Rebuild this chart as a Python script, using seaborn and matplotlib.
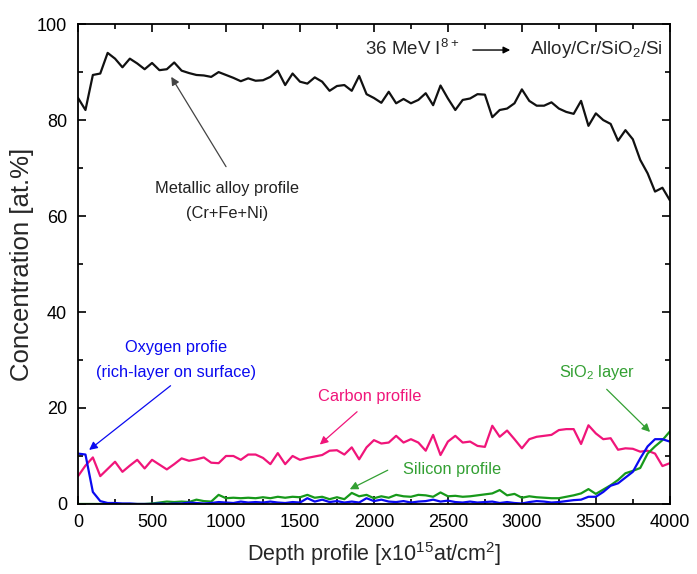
import numpy as np
import pandas as pd
import matplotlib
matplotlib.use("Agg")
import matplotlib.pyplot as plt
import seaborn as sns
from matplotlib.ticker import MultipleLocator

# ---- data ----
depth = list(range(0, 4001, 50))

metal = [84.6, 82.1, 89.4, 89.7, 94.0, 92.8, 91.0, 92.8, 91.8, 90.6,
         91.9, 90.4, 90.6, 92.0, 90.3, 89.8, 89.4, 89.3, 89.0, 90.0,
         89.4, 88.8, 88.1, 88.7, 88.2, 88.3, 89.0, 90.3, 87.3, 89.7,
         88.0, 87.6, 88.9, 88.0, 86.1, 87.1, 87.3, 86.1, 89.2, 85.4,
         84.6, 83.6, 85.9, 83.5, 84.4, 83.5, 84.2, 85.6, 83.1, 87.2,
         84.5, 82.1, 84.2, 84.5, 85.4, 85.3, 80.6, 82.1, 82.4, 83.5,
         86.4, 84.0, 83.0, 83.0, 83.7, 82.4, 81.7, 81.3, 84.0, 78.8,
         81.4, 80.0, 79.2, 75.7, 77.9, 76.0, 71.7, 68.9, 65.1, 65.9,
         63.3]

carbon = [5.8, 8.0, 9.7, 5.8, 7.3, 8.8, 6.7, 8.0, 9.2, 7.4,
          9.2, 8.2, 7.2, 8.3, 9.5, 9.0, 9.3, 9.7, 8.6, 8.5,
          10.0, 10.0, 9.2, 10.3, 10.3, 9.6, 8.3, 10.6, 8.3, 10.0,
          9.2, 9.6, 9.9, 10.2, 11.1, 11.2, 10.3, 11.8, 9.3, 11.8,
          13.3, 12.6, 12.8, 14.2, 12.8, 13.5, 12.8, 11.1, 14.4, 10.2,
          13.0, 14.2, 12.8, 13.0, 12.1, 11.9, 16.3, 14.0, 15.3, 13.5,
          11.6, 13.5, 14.0, 14.2, 14.4, 15.4, 15.6, 15.6, 12.5, 16.4,
          14.7, 13.5, 13.7, 11.3, 11.6, 11.5, 10.9, 11.1, 10.5, 7.9,
          8.5]

oxygen = [10.5, 10.3, 2.5, 0.6, 0.2, 0.2, 0.1, 0.1, 0.0, 0.0,
          0.0, 0.1, 0.0, 0.1, 0.1, 0.3, 0.2, 0.1, 0.2, 0.4,
          0.3, 0.2, 0.5, 0.3, 0.4, 0.3, 0.5, 0.3, 0.2, 0.4,
          0.3, 1.2, 0.5, 0.9, 0.4, 0.6, 0.3, 0.5, 0.3, 1.2,
          0.6, 0.9, 0.5, 0.4, 0.6, 0.3, 0.5, 0.6, 0.9, 0.5,
          0.7, 0.4, 0.3, 0.5, 0.3, 0.4, 0.5, 0.2, 0.4, 0.2,
          0.1, 0.4, 0.6, 0.5, 0.3, 0.4, 0.6, 0.8, 0.9, 1.5,
          1.5, 2.5, 3.8, 4.3, 5.5, 6.7, 9.5, 12.0, 13.5, 13.5,
          13.0]

silicon = [0.0, 0.0, 0.0, 0.0, 0.0, 0.0, 0.0, 0.0, 0.0, 0.0,
           0.1, 0.3, 0.5, 0.4, 0.5, 0.4, 0.9, 0.6, 0.5, 1.9,
           1.2, 1.3, 1.2, 1.3, 1.2, 1.4, 1.2, 1.5, 1.3, 1.5,
           1.4, 1.9, 1.3, 1.5, 1.0, 1.4, 1.0, 2.3, 1.6, 1.9,
           1.2, 1.6, 1.3, 1.9, 1.6, 1.5, 1.9, 1.8, 1.5, 2.4,
           1.6, 1.7, 1.5, 1.6, 1.8, 2.0, 2.2, 2.9, 1.8, 2.1,
           1.3, 1.6, 1.4, 1.3, 1.2, 1.2, 1.5, 1.8, 2.2, 3.1,
           2.1, 3.0, 3.9, 5.0, 6.4, 6.9, 7.5, 10.5, 12.0, 13.3,
           15.1]

df = pd.DataFrame({"depth": depth, "metal": metal, "carbon": carbon,
                   "oxygen": oxygen, "silicon": silicon})

# ---- style ----
sns.set_style("ticks")
plt.rcParams["font.family"] = ["Liberation Sans", "DejaVu Sans"]
plt.rcParams["mathtext.default"] = "regular"

BLACK = "#111111"
PINK = "#f0157a"
BLUE = "#0a0af0"
GREEN = "#17991a"
GREEN_T = "#33a033"

fig = plt.figure(figsize=(6.97, 5.74), dpi=100)
ax = fig.add_axes([0.112, 0.122, 0.849, 0.836])

lw = 1.6
sns.lineplot(data=df, x="depth", y="metal", color=BLACK, lw=lw, ax=ax)
sns.lineplot(data=df, x="depth", y="carbon", color=PINK, lw=lw, ax=ax)
sns.lineplot(data=df, x="depth", y="silicon", color=GREEN, lw=lw, ax=ax)
sns.lineplot(data=df, x="depth", y="oxygen", color=BLUE, lw=lw, ax=ax)

ax.set_xlim(0, 4000)
ax.set_ylim(0, 100)
ax.xaxis.set_major_locator(MultipleLocator(500))
ax.xaxis.set_minor_locator(MultipleLocator(250))
ax.yaxis.set_major_locator(MultipleLocator(20))
ax.yaxis.set_minor_locator(MultipleLocator(10))
ax.tick_params(which="both", direction="in", top=True, right=True,
               width=1.2, labelsize=13, colors="black")
ax.tick_params(axis="y", pad=8)
ax.tick_params(axis="x", pad=7)
ax.tick_params(which="major", length=6)
ax.tick_params(which="minor", length=3.5)
for s in ax.spines.values():
    s.set_linewidth(1.3)
    s.set_color("black")

ax.set_xlabel("Depth profile [x10$^{15}$at/cm$^{2}$]", fontsize=15.5, labelpad=7)
ax.set_ylabel("Concentration [at.%]", fontsize=18.5, labelpad=2)

# ---- annotations ----
tf = 13.5
ax.text(1940, 94.8, "36 MeV I$^{8+}$", fontsize=tf, ha="left", va="center")
ax.annotate("", xy=(2940, 94.6), xytext=(2650, 94.6),
            arrowprops=dict(arrowstyle="-|>", color="black", lw=1,
                            mutation_scale=10))
ax.text(3955, 94.8, "Alloy/Cr/SiO$_2$/Si", fontsize=tf, ha="right", va="center")

af = 11.8
ax.text(1010, 65.8, "Metallic alloy profile", fontsize=af,
        ha="center", va="center", color="#222222")
ax.text(1010, 60.6, "(Cr+Fe+Ni)", fontsize=af,
        ha="center", va="center", color="#222222")
ax.annotate("", xy=(620, 89.5), xytext=(1010, 69.8),
            arrowprops=dict(arrowstyle="-|>", color="#444444", lw=0.9,
                            mutation_scale=12))

ax.text(660, 32.7, "Oxygen profie", fontsize=af,
        ha="center", va="center", color=BLUE)
ax.text(660, 27.5, "(rich-layer on surface)", fontsize=af,
        ha="center", va="center", color=BLUE)
ax.annotate("", xy=(60, 10.9), xytext=(640, 25.0),
            arrowprops=dict(arrowstyle="-|>", color=BLUE, lw=0.9,
                            mutation_scale=12))

ax.text(1970, 22.3, "Carbon profile", fontsize=af,
        ha="center", va="center", color=PINK)
ax.annotate("", xy=(1620, 12.0), xytext=(1900, 19.6),
            arrowprops=dict(arrowstyle="-|>", color=PINK, lw=0.9,
                            mutation_scale=12))

ax.text(2530, 7.2, "Silicon profile", fontsize=af,
        ha="center", va="center", color=GREEN_T)
ax.annotate("", xy=(1820, 2.8), xytext=(2110, 7.3),
            arrowprops=dict(arrowstyle="-|>", color=GREEN_T, lw=0.9,
                            mutation_scale=12))

ax.text(3510, 27.3, "SiO$_2$ layer", fontsize=af,
        ha="center", va="center", color=GREEN_T)
ax.annotate("", xy=(3880, 14.6), xytext=(3560, 24.3),
            arrowprops=dict(arrowstyle="-|>", color=GREEN_T, lw=0.9,
                            mutation_scale=12))

fig.savefig("out.png", dpi=100)
